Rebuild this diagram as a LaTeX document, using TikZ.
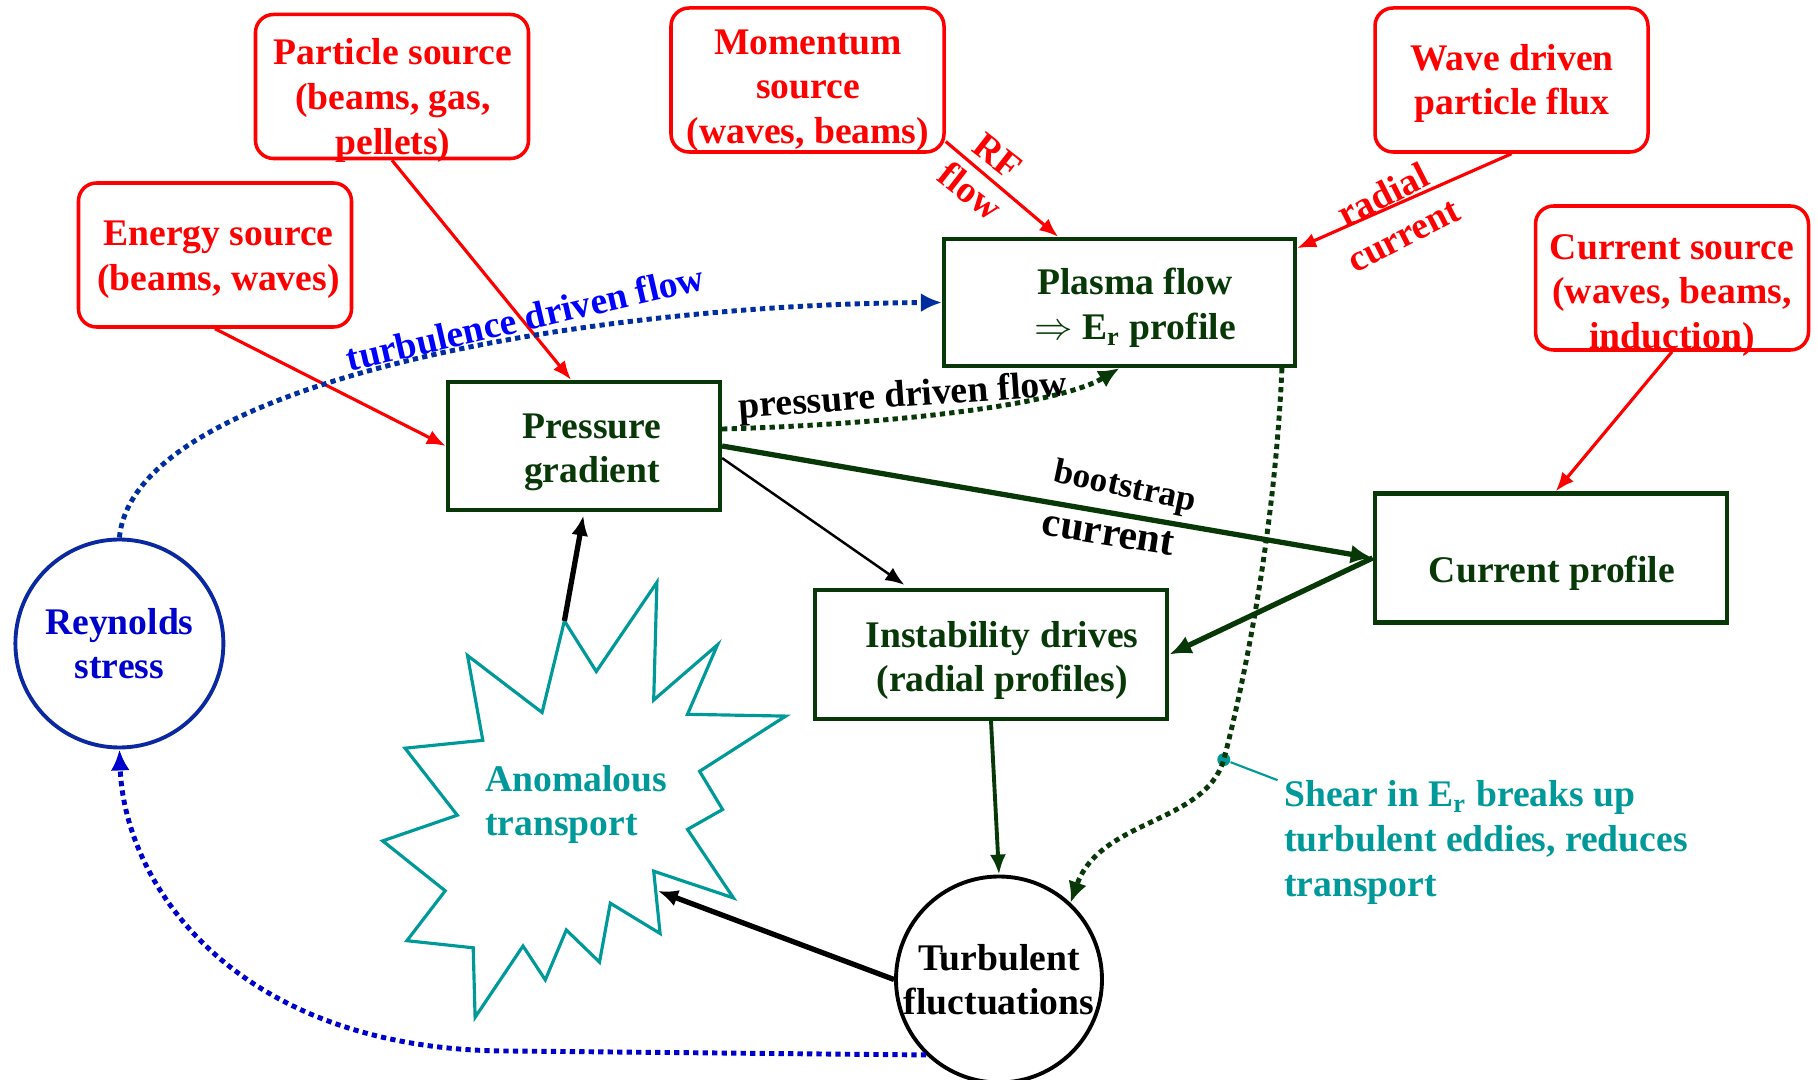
\documentclass[tikz,border=0pt]{standalone}
\usepackage{fontspec}
\setmainfont{Liberation Serif}
\definecolor{plred}{RGB}{255,0,0}
\definecolor{plgreen}{RGB}{8,56,8}
\definecolor{plblue}{RGB}{0,0,255}
\definecolor{pldot}{RGB}{0,45,160}
\definecolor{plnavy}{RGB}{10,40,160}
\definecolor{plrey}{RGB}{0,0,204}
\definecolor{plteal}{RGB}{0,153,153}
\usetikzlibrary{arrows.meta,calc}

\begin{document}
\begin{tikzpicture}[
  txt/.style={font=\fontsize{10.7}{12.7}\selectfont\bfseries, align=center, inner sep=0pt, yshift=-0.35mm},
  srcbox/.style={draw=plred, line width=1pt, rounded corners=0.18cm, inner sep=0pt,
    minimum width=2.73cm, minimum height=1.44cm},
  profbox/.style={draw=plgreen, line width=1.2pt, inner sep=0pt, minimum height=1.28cm},
  ring/.style={circle, draw, line width=1.1pt, inner sep=0pt},
  redarrow/.style={plred, line width=0.9pt, -{Latex[length=1.9mm,width=1.5mm]}},
  blackthin/.style={black, line width=0.7pt, -{Latex[length=1.9mm,width=1.5mm]}},
  blackthick/.style={black, line width=1.5pt, -{Latex[length=2mm,width=1.7mm]}},
  greenthick/.style={plgreen, line width=1.5pt, -{Latex[length=2.2mm,width=1.9mm]}},
  greenmid/.style={plgreen, line width=1.1pt, -{Latex[length=2mm,width=1.6mm]}},
  dots/.style={line width=1.4pt, dash pattern=on 1.5pt off 1.2pt, -{Latex[length=2.1mm,width=1.9mm]}}
]
  \useasboundingbox (0,0) rectangle (18.18,10.79);

  % Sources
  \node[srcbox] (particle) at (3.92,9.925) {};
  \node[txt, text=plred] (particle-t) at (3.93,9.82) {Particle source\\(beams, gas,\\pellets)};
  \node[srcbox] (momentum) at (8.075,9.99) {};
  \node[txt, text=plred] (momentum-t) at (8.08,9.92) {Momentum\\source\\(waves, beams)};
  \node[srcbox] (wave) at (15.115,9.99) {};
  \node[txt, text=plred] (wave-t) at (15.12,9.99) {Wave driven\\particle flux};
  \node[srcbox] (energy) at (2.15,8.24) {};
  \node[txt, text=plred] (energy-t) at (2.185,8.23) {Energy source\\(beams, waves)};
  \node[srcbox] (cursrc) at (16.72,8.01) {};
  \node[txt, text=plred] (cursrc-t) at (16.72,7.87) {Current source\\(waves, beams,\\induction)};

  % Profiles
  \node[profbox, minimum width=3.51cm, minimum height=1.27cm] (plasma) at (11.195,7.765) {};
  \node[txt, text=plgreen] (plasma-t) at (11.35,7.745) {Plasma flow\\$\Rightarrow$ E\textsubscript{r} profile};
  \node[profbox, minimum width=2.72cm] (pressure) at (5.84,6.33) {};
  \node[txt, text=plgreen] (pressure-t) at (5.92,6.30) {Pressure\\gradient};
  \node[profbox, minimum width=3.525cm, minimum height=1.29cm] (currprof) at (15.51,5.21) {};
  \node[txt, text=plgreen] (currprof-t) at (15.52,5.09) {Current profile};
  \node[profbox, minimum width=3.525cm, minimum height=1.29cm] (instab) at (9.91,4.245) {};
  \node[txt, text=plgreen] (instab-t) at (10.02,4.22) {Instability drives\\(radial profiles)};

  % Circles
  \node[ring, draw=plnavy, minimum size=2.08cm, txt, text=plrey] (reynolds) at (1.194,4.39) {Reynolds\\stress};
  \node[ring, minimum size=2.06cm, txt] (turbulent) at (9.99,1.03) {Turbulent\\fluctuations};

  % Anomalous transport burst
  \draw[plteal, line width=0.9pt] (5.644,4.581) -- (5.963,4.075) -- (6.569,4.966) -- (6.537,3.790)
    -- (7.175,4.342) -- (6.875,3.647) -- (7.857,3.629) -- (6.996,3.077) -- (7.226,2.695)
    -- (6.875,2.496) -- (7.334,1.811) -- (6.537,2.078) -- (6.601,1.455) -- (6.103,1.758)
    -- (5.995,1.169) -- (5.663,1.490) -- (5.453,0.991) -- (5.230,1.330) -- (4.751,0.617)
    -- (4.732,1.312) -- (4.069,1.383) -- (4.452,1.882) -- (3.827,2.381) -- (4.573,2.638)
    -- (4.050,3.308) -- (4.828,3.387) -- (4.675,4.235) -- (5.421,3.665) -- cycle;
  \coordinate (burst-top) at (5.644,4.581);
  \coordinate (burst-in) at (6.58,1.88);
  \node[txt, text=plteal, align=left, anchor=west] (anomalous) at (4.847,2.78) {Anomalous\\transport};

  % Shear note
  \node[circle, fill=plteal, inner sep=0pt, minimum size=0.13cm] (sheardot) at (12.238,3.194) {};
  \node[txt, text=plteal, align=left, anchor=west] (shear) at (12.835,2.40) {Shear in E\textsubscript{r} breaks up\\turbulent eddies, reduces\\transport};
  \coordinate (shear-end) at (12.776,2.988);
  \draw[plteal, line width=0.6pt] (sheardot) -- (shear-end);

  % Source arrows
  \draw[redarrow] (particle.south) -- (pressure.101);
  \draw[redarrow] (energy.south) -- (pressure.west);
  \draw[redarrow] (momentum.-24) -- (plasma.133);
  \draw[redarrow] (wave.south) -- (plasma.17.5);
  \draw[redarrow] (cursrc.south) -- (currprof.86);
  \node[txt, text=plred, rotate=-38] (rf-label) at (9.84,9.085) {RF\\flow};
  \node[txt, text=plred, rotate=27] (radial-label) at (13.93,8.68) {radial\\current};

  % Profile arrows
  \draw[greenthick] (pressure.east) -- (currprof.west);
  \draw[greenthick] (currprof.west) -- (instab.east);
  \draw[blackthin, shorten >=1.5pt] (pressure.-5) -- (instab.141);
  \draw[greenmid] (instab.south) -- (turbulent.north);
  \draw[blackthick] (turbulent.west) -- (burst-in);
  \draw[blackthick, shorten >=1pt] (burst-top) -- (pressure.south);
  \node[font=\fontsize{10}{12}\selectfont\bfseries, inner sep=0pt, rotate=-12] (boot-label) at (11.25,5.907) {bootstrap};
  \node[font=\fontsize{11.8}{13.5}\selectfont\bfseries, inner sep=0pt, rotate=-9] (current-label) at (11.083,5.45) {current};

  % Flow loops
  \draw[dots, pldot] (reynolds.north) .. controls (1.35,7.0) and (6.0,7.75) .. (plasma.west);
  \node[txt, text=plblue, rotate=13] (turb-label) at (5.25,7.65) {turbulence driven flow};
  \draw[dots, plrey] (turbulent.226) -- (5.1,0.28) .. controls (2.4,0.28) and (1.25,1.9) .. (reynolds.south);
  \draw[dots, plgreen] (pressure.7) .. controls (9.0,6.55) and (10.6,6.75) .. (plasma.south);
  \node[txt, rotate=4] (press-label) at (9.03,6.85) {pressure driven flow};
  \draw[dots, plgreen] (plasma.-22) .. controls (12.75,5.5) and (12.45,4.0) .. (sheardot.center)
    .. controls (12.05,2.55) and (11.0,2.6) .. (turbulent.47);
\end{tikzpicture}
\end{document}
